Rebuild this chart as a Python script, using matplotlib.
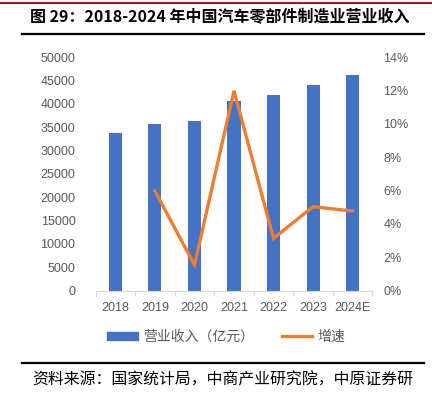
import matplotlib
matplotlib.use("Agg")
import matplotlib.pyplot as plt
from matplotlib.lines import Line2D
from matplotlib.patches import Patch
import numpy as np

plt.rcParams['font.family'] = ['Liberation Sans', 'Noto Sans CJK SC', 'DejaVu Sans']

years = ["2018", "2019", "2020", "2021", "2022", "2023", "2024E"]
revenue = [33700, 35700, 36300, 40600, 41900, 44000, 46200]
growth = [None, 5.97, 1.53, 11.98, 3.13, 5.03, 4.77]

title = "图 29：2018-2024 年中国汽车零部件制造业营业收入"
source = "资料来源：国家统计局，中商产业研究院，中原证券研"
bar_label = "营业收入（亿元）"
line_label = "增速"

blue = "#4472C4"
orange = "#ED7D31"
gray = "#595959"

W, H = 432, 395
fig = plt.figure(figsize=(W/100, H/100), dpi=100)
ax = fig.add_axes([95.7/W, 1-290.5/H, (372.3-95.7)/W, (290.5-57.3)/H])
x = np.arange(len(years))
ax.bar(x, revenue, width=0.33, color=blue, zorder=2)
ax.set_ylim(0, 50000)
ax.set_yticks(np.arange(0, 50001, 5000))
ax.set_xlim(-0.5, len(years)-0.5)
ax.set_xticks(x)
ax.set_xticklabels(years)
ax.set_xticks(np.arange(-0.5, len(years), 1), minor=True)
ax.tick_params(axis='x', which='major', length=0, pad=8, labelsize=9, labelcolor=gray)
ax.tick_params(axis='x', which='minor', length=3.5, color="#d9d9d9", width=0.8)
ax.tick_params(axis='y', length=0, pad=14.5, labelsize=9, labelcolor=gray)
for s in ['top', 'right', 'left']:
    ax.spines[s].set_visible(False)
ax.spines['bottom'].set_color("#d9d9d9")
ax.spines['bottom'].set_linewidth(0.8)

ax2 = ax.twinx()
gx = [xi for xi, g in zip(x, growth) if g is not None]
gy = [g for g in growth if g is not None]
ax2.plot(gx, gy, color=orange, lw=2.4, zorder=3, solid_joinstyle='miter')
ax2.set_ylim(0, 14)
ax2.set_yticks(np.arange(0, 15, 2))
ax2.set_yticklabels([f"{v}%" for v in range(0, 15, 2)])
ax2.tick_params(axis='y', length=0, pad=8, labelsize=9, labelcolor=gray)
for s in ['top', 'right', 'left', 'bottom']:
    ax2.spines[s].set_visible(False)

handles = [Patch(color=blue, label=bar_label), Line2D([0], [0], color=orange, lw=2.4, label=line_label)]
leg = fig.legend(handles=handles, loc='center', bbox_to_anchor=(226/W, 1-337/H), ncol=2,
                 frameon=False, handlelength=2.2, handleheight=0.55, columnspacing=2.0,
                 handletextpad=0.35, prop={'family': ['Noto Sans CJK SC'], 'size': 10})
for t in leg.get_texts():
    t.set_color(gray)

# decorations
fig.add_artist(Line2D([0, 1], [1-2.5/H, 1-2.5/H], color="#9E1B22", lw=1.5))
fig.add_artist(Line2D([22/W, 424/W], [1-33.5/H, 1-33.5/H], color="black", lw=1.6))
fig.add_artist(Line2D([22/W, 424/W], [1-363/H, 1-363/H], color="black", lw=1.6))
fig.text(220/W, 1-17/H, title, ha='center', va='center', fontsize=11.5, fontweight='bold',
         family=['Noto Sans CJK SC'], color="black")
fig.text(32/W, 1-380/H, source, ha='left', va='center', fontsize=11.4,
         family=['Noto Sans CJK SC'], color="black")

fig.savefig("out.png", dpi=100)
